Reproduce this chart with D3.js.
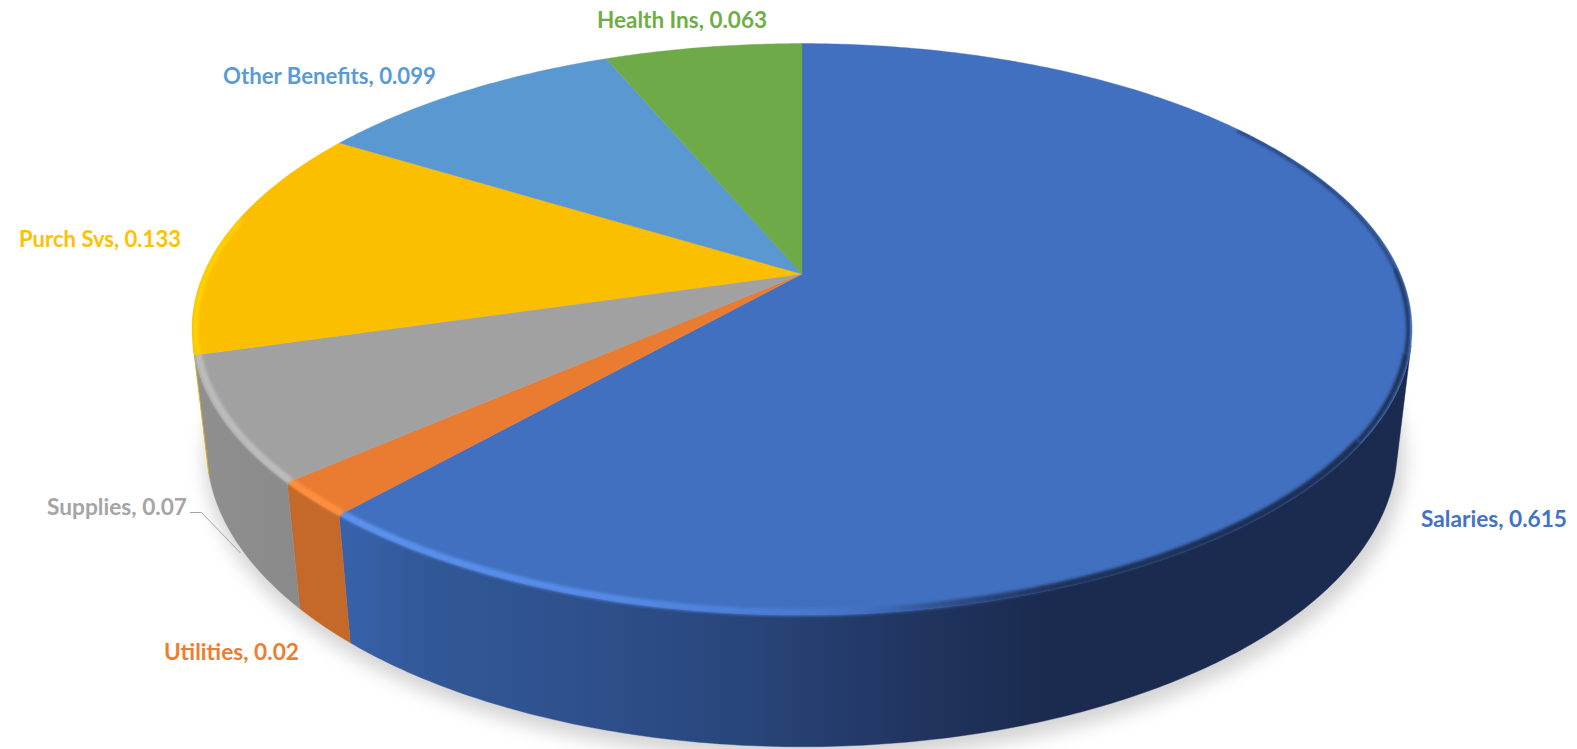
<!DOCTYPE html>
<html>
<head>
<meta charset="utf-8">
<script src="https://cdn.jsdelivr.net/npm/d3@7"></script>
<style>
  html, body { margin: 0; background: #fff; }
  svg { display: block; }
  text { font-family: Lato, "Open Sans", sans-serif; font-weight: 700; }
</style>
</head>
<body>
<svg id="chart" width="1577" height="749"></svg>
<script>
// Budget shares, clockwise from twelve o'clock
const categories = ["Salaries", "Utilities", "Supplies", "Purch Svs", "Other Benefits", "Health Ins"];
const shares = [0.615, 0.02, 0.07, 0.133, 0.099, 0.063];
const faceColors = ["#4170c1", "#e97c30", "#a1a1a1", "#fbbf00", "#5a98d2", "#6eaa47"];
const labelColors = ["#4472c4", "#ed7d31", "#a5a5a5", "#ffc000", "#5b9bd5", "#70ad47"];

// Label boxes: left edge, baseline, rendered width
const labelX = [1421, 164, 47, 19, 223, 597];
const labelY = [526.5, 659.5, 514.5, 247, 83.5, 28];
const labelW = [146, 135, 140, 162, 213, 170];

const svg = d3.select("#chart");
const defs = svg.append("defs");

// Perspective projection of the unit disc: one plane for the face, one for the base
const tilt = 0.1933;
const facePlane = { cx: 802, cy: 274, a: 598.5, b: 275 };
const basePlane = { cx: 802, cy: 391, a: 584, b: 287 };

function project(plane, angle, radius = 1) {
  const u = Math.sin(angle) * radius;
  const v = -Math.cos(angle) * radius;
  const w = 1 - tilt * v;
  return [plane.cx + plane.a * u / w, plane.cy + plane.b * v / w];
}

function sweep(a0, a1) {
  const n = Math.max(2, Math.ceil(Math.abs(a1 - a0) / 0.01));
  return d3.range(n + 1).map(i => a0 + (a1 - a0) * i / n);
}

// Signed turn between the vertical wall edge and the rim; its sign flips on the silhouette
function wallFacing(angle) {
  const t0 = project(facePlane, angle);
  const t1 = project(facePlane, angle + 0.001);
  const b0 = project(basePlane, angle);
  return (b0[0] - t0[0]) * (t1[1] - t0[1]) - (b0[1] - t0[1]) * (t1[0] - t0[0]);
}
const frontSign = Math.sign(wallFacing(Math.PI));
let foldRight = Math.PI, foldLeft = Math.PI;
while (Math.sign(wallFacing(foldRight)) === frontSign) foldRight -= 0.001;
while (Math.sign(wallFacing(foldLeft)) === frontSign) foldLeft += 0.001;

const pie = d3.pie().sort(null).value(d => d)(shares);
const line = d3.line();

const facePath = s => line([
  [facePlane.cx, facePlane.cy],
  ...sweep(s.startAngle, s.endAngle).map(a => project(facePlane, a))
]) + "Z";

// Only the part of a slice's wall that turns toward the viewer
function wallPath(s) {
  const a0 = Math.max(s.startAngle, foldRight);
  const a1 = Math.min(s.endAngle, foldLeft);
  if (a1 <= a0) return null;
  return line([
    ...sweep(a0, a1).map(a => project(facePlane, a)),
    ...sweep(a1, a0).map(a => project(basePlane, a))
  ]) + "Z";
}

const ringPath = (plane, r) => line(sweep(0, 2 * Math.PI).map(a => project(plane, a, r))) + "Z";

// Gradients in page coordinates, so each wall darkens from left to right
function gradient(id, stops) {
  const g = defs.append("linearGradient").attr("id", id)
    .attr("gradientUnits", "userSpaceOnUse")
    .attr("x1", 0).attr("x2", 1577).attr("y1", 0).attr("y2", 0);
  stops.forEach(([x, c]) => g.append("stop")
    .attr("offset", x / 1577).attr("stop-color", c));
}

gradient("wall0", [[343, "#3762ab"], [430, "#315896"], [600, "#2e4f8c"], [760, "#284478"], [900, "#213662"], [1040, "#1b2b4f"], [1577, "#1b2b4f"]]);
gradient("wall1", [[290, "#c4692a"], [352, "#c4692a"]]);
gradient("wall2", [[200, "#8f8f8f"], [300, "#8a8a8a"]]);
gradient("wall3", [[190, "#e2ad00"], [215, "#e2ad00"]]);

gradient("rim0", [[343, "#5c93ee"], [620, "#538ae6"], [780, "#4a7cd4"], [860, "#4272c4"], [960, "#2c4a84"], [1060, "#1f3158"], [1577, "#1b2b4f"]]);
gradient("rim1", [[290, "#ff8f3d"], [352, "#ff8f3d"]]);
gradient("rim2", [[195, "#bcbcbc"], [295, "#bcbcbc"]]);
gradient("rim3", [[190, "#ffd800"], [345, "#fcc400"]]);

const blur = (id, sd) => defs.append("filter").attr("id", id)
  .attr("x", "-10%").attr("y", "-10%").attr("width", "120%").attr("height", "120%")
  .append("feGaussianBlur").attr("stdDeviation", sd);
blur("softShadow", 9);
blur("softRim", 1.6);

// Clip for the bevel: the whole solid seen from above
const bodyClip = defs.append("clipPath").attr("id", "bodyClip");
bodyClip.append("path").attr("d", ringPath(facePlane, 1));
pie.forEach(s => {
  const d = wallPath(s);
  if (d) bodyClip.append("path").attr("d", d);
});

// Cast shadow below the base
svg.append("path")
  .attr("d", ringPath(basePlane, 1.008))
  .attr("transform", "translate(3,9)")
  .attr("fill", "#000")
  .attr("fill-opacity", 0.17)
  .attr("filter", "url(#softShadow)");

// Side walls, drawn before the faces so the rim sits on top
svg.append("g").selectAll("path")
  .data(pie.map((d, i) => ({ ...d, i })).filter(d => wallPath(d)))
  .join("path")
  .attr("d", wallPath)
  .attr("fill", d => `url(#wall${d.i})`)
  .attr("stroke", d => `url(#wall${d.i})`)
  .attr("stroke-width", 0.4);

// Top faces
svg.append("g").selectAll("path")
  .data(pie)
  .join("path")
  .attr("d", facePath)
  .attr("fill", (d, i) => faceColors[i])
  .attr("stroke", (d, i) => faceColors[i])
  .attr("stroke-width", 0.4);

// Bevel along the rim, bright on the lit side and falling into shadow on the right
const rimGroup = svg.append("g").attr("clip-path", "url(#bodyClip)");
const rimArcs = [
  [0, 0.95, 1.55, 2],
  [0, 1.55, 1.85, 3.5],
  [0, 1.85, 2.15, 5],
  [0, 2.15, pie[0].endAngle, 7],
  [1, pie[1].startAngle, pie[1].endAngle, 7],
  [2, pie[2].startAngle, pie[2].endAngle, 7],
  [3, pie[3].startAngle, pie[3].endAngle - 0.35, 4]
];
rimGroup.selectAll("path")
  .data(rimArcs)
  .join("path")
  .attr("d", d => line(sweep(d[1], d[2]).map(a => project(facePlane, a, 0.994))))
  .attr("fill", "none")
  .attr("stroke", d => `url(#rim${d[0]})`)
  .attr("stroke-width", d => d[3])
  .attr("filter", "url(#softRim)");

// Leader from the Supplies label to its wall
svg.append("path")
  .attr("d", line([[190, 512.5], [201.5, 512.5], [240.5, 553]]))
  .attr("fill", "none")
  .attr("stroke", "#a5a5a5")
  .attr("stroke-width", 1);

// Data labels
svg.append("g").selectAll("text")
  .data(categories)
  .join("text")
  .attr("x", (d, i) => labelX[i])
  .attr("y", (d, i) => labelY[i])
  .attr("font-size", 22.5)
  .attr("fill", (d, i) => labelColors[i])
  .attr("textLength", (d, i) => labelW[i])
  .attr("lengthAdjust", "spacingAndGlyphs")
  .text((d, i) => `${d}, ${shares[i]}`);
</script>
</body>
</html>
